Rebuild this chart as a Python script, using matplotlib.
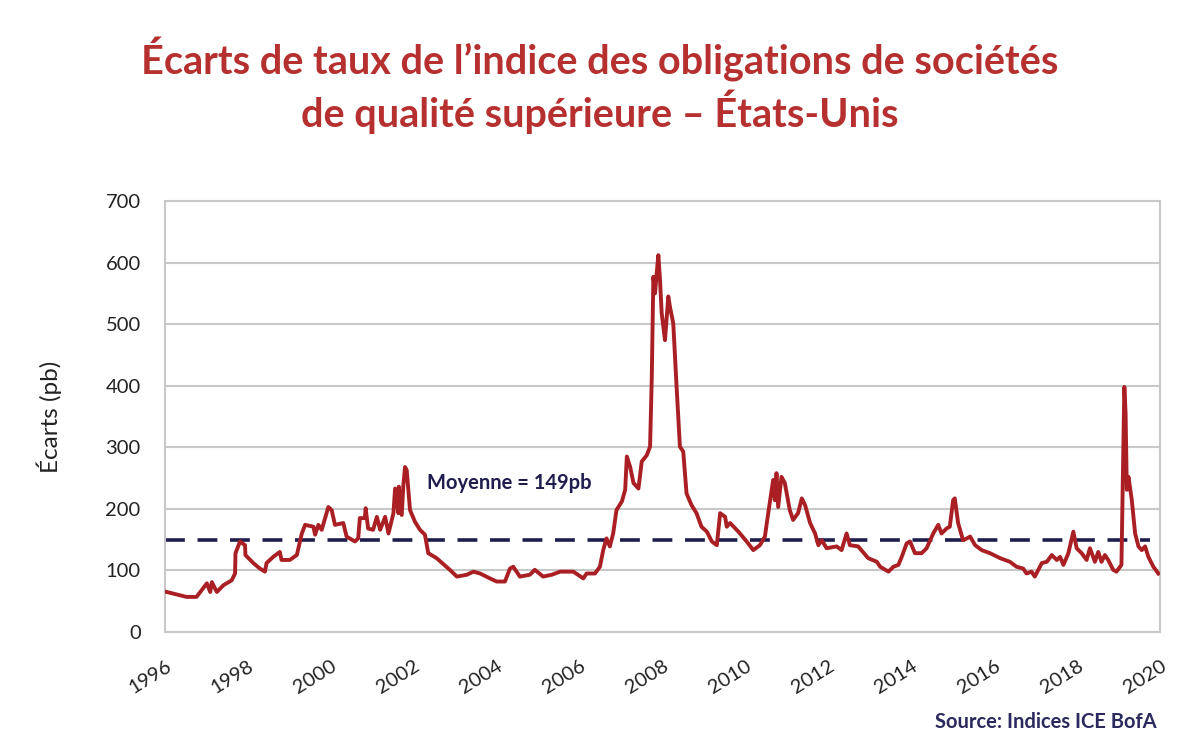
import matplotlib
matplotlib.use("Agg")
import matplotlib.pyplot as plt

# ---- data (decimal year, spread in bp) ----
years = [1996.04, 1996.52, 1996.76, 1997.01, 1997.09, 1997.13, 1997.25, 1997.41, 1997.61,
         1997.69, 1997.70, 1997.81, 1997.93, 1997.94, 1998.13, 1998.29, 1998.41, 1998.45,
         1998.61, 1998.77, 1998.81, 1999.01, 1999.18, 1999.30, 1999.38, 1999.58, 1999.62,
         1999.70, 1999.78, 1999.94, 2000.02, 2000.10, 2000.30, 2000.38, 2000.58, 2000.66,
         2000.70, 2000.82, 2000.84, 2000.90, 2001.02, 2001.11, 2001.19, 2001.31, 2001.39,
         2001.51, 2001.55, 2001.63, 2001.64, 2001.71, 2001.75, 2001.79, 2001.83, 2001.91,
         2002.03, 2002.15, 2002.27, 2002.35, 2002.55, 2002.87, 2003.04, 2003.28, 2003.44,
         2003.60, 2003.84, 2004.00, 2004.20, 2004.32, 2004.40, 2004.56, 2004.80, 2004.92,
         2005.12, 2005.33, 2005.53, 2005.85, 2006.09, 2006.17, 2006.37, 2006.49, 2006.57,
         2006.65, 2006.73, 2006.81, 2006.89, 2007.02, 2007.10, 2007.14, 2007.22, 2007.30,
         2007.42, 2007.50, 2007.62, 2007.70, 2007.74, 2007.78, 2007.82, 2007.86, 2007.90,
         2007.94, 2007.98, 2008.06, 2008.14, 2008.18, 2008.26, 2008.34, 2008.42, 2008.50,
         2008.58, 2008.70, 2008.82, 2008.94, 2009.07, 2009.19, 2009.31, 2009.39, 2009.51,
         2009.55, 2009.63, 2009.83, 2010.03, 2010.19, 2010.35, 2010.47, 2010.55, 2010.67,
         2010.71, 2010.75, 2010.79, 2010.87, 2010.95, 2011.07, 2011.15, 2011.27, 2011.36,
         2011.44, 2011.56, 2011.68, 2011.76, 2011.84, 2011.96, 2012.20, 2012.32, 2012.44,
         2012.52, 2012.72, 2012.96, 2013.17, 2013.25, 2013.45, 2013.57, 2013.69, 2013.77,
         2013.89, 2013.97, 2014.09, 2014.25, 2014.37, 2014.53, 2014.65, 2014.73, 2014.85,
         2014.93, 2015.01, 2015.05, 2015.13, 2015.25, 2015.34, 2015.42, 2015.54, 2015.70,
         2015.90, 2016.14, 2016.38, 2016.54, 2016.70, 2016.78, 2016.90, 2016.98, 2017.15,
         2017.27, 2017.39, 2017.51, 2017.59, 2017.67, 2017.79, 2017.91, 2017.99, 2018.11,
         2018.23, 2018.31, 2018.43, 2018.51, 2018.59, 2018.67, 2018.75, 2018.87, 2018.95,
         2019.07, 2019.11, 2019.14, 2019.17, 2019.20, 2019.24, 2019.32, 2019.40, 2019.48,
         2019.56, 2019.64, 2019.72, 2019.84, 2019.96]
spreads = [65, 57, 57, 79, 65, 81, 65, 76, 84,
           95, 128, 147, 141, 125, 112, 103, 98, 112,
           122, 130, 117, 117, 125, 160, 174, 171, 158,
           174, 166, 203, 198, 174, 177, 155, 147, 152,
           185, 185, 201, 168, 166, 187, 166, 187, 160,
           193, 233, 193, 236, 190, 239, 268, 263, 198,
           179, 166, 158, 128, 120, 101, 90, 93, 98,
           95, 87, 82, 82, 103, 106, 90, 93, 101,
           90, 93, 98, 98, 87, 95, 95, 106, 133,
           152, 139, 160, 198, 212, 231, 285, 268, 242,
           233, 277, 287, 301, 409, 577, 550, 583, 612,
           572, 518, 474, 545, 528, 501, 398, 301, 293,
           225, 206, 193, 171, 163, 147, 141, 193, 187,
           171, 177, 163, 147, 133, 141, 155, 193, 247,
           214, 258, 203, 252, 242, 198, 182, 193, 217,
           206, 177, 160, 141, 149, 136, 139, 133, 160,
           141, 139, 120, 114, 106, 98, 106, 109, 122,
           144, 147, 128, 128, 136, 160, 174, 160, 168,
           171, 214, 217, 177, 149, 152, 155, 141, 133,
           128, 120, 114, 106, 103, 95, 98, 90, 112,
           114, 125, 117, 122, 109, 128, 163, 136, 128,
           117, 136, 114, 130, 114, 125, 117, 101, 98,
           109, 274, 398, 355, 231, 252, 214, 160, 139,
           133, 139, 122, 106, 95]
average = 149
avg_label = "Moyenne = 149pb"
tick_years = list(range(1996, 2021, 2))
y_ticks = list(range(0, 701, 100))

title = "Écarts de taux de l’indice des obligations de sociétés\nde qualité supérieure – États-Unis"
ylabel = "Écarts (pb)"
source = "Source: Indices ICE BofA"

# ---- style ----
plt.rcParams['font.family'] = ['Lato', 'DejaVu Sans']
red = "#a91f24"
navy = "#1f1d4d"
grid_c = "#c8c8c8"

fig = plt.figure(figsize=(12, 7.45), dpi=100)
ax = fig.add_axes([165/1200, 113/745, 995/1200, 431/745])

ax.plot(years, spreads, color=red, lw=2.8, solid_joinstyle='round', zorder=3)
ax.hlines(average, 1996, 2019.75, colors=navy, lw=2.6, linestyles=(0, (5.5, 3.5)), zorder=2)
ax.text(2002.32, 242, avg_label, color=navy, fontsize=14.5, fontweight='bold',
        va='center', ha='left')

ax.set_xlim(1996, 2020)
ax.set_ylim(0, 700)
ax.set_yticks(y_ticks)
ax.set_xticks(tick_years)
ax.set_xticklabels([str(t) for t in tick_years], rotation=32, ha='right',
                   rotation_mode='anchor')
ax.tick_params(axis='both', length=0, labelsize=14.5, colors="#222222")
ax.tick_params(axis='y', pad=17.5)
ax.tick_params(axis='x', pad=18)
ax.grid(axis='y', color=grid_c, lw=1.5)
ax.set_axisbelow(True)
for s in ax.spines.values():
    s.set_color(grid_c)
    s.set_linewidth(1.5)

ax.set_ylabel(ylabel, fontsize=17.5, color="#222222", labelpad=31)

fig.text(0.5, 0.885, title, ha='center', va='center', fontsize=28.5,
         fontweight='bold', color="#b5302f", linespacing=1.2)
fig.text(1157/1200, 1 - 722/745, source, ha='right', va='center', fontsize=14.5,
         fontweight='bold', color="#2b2a5e")

fig.savefig("out.png", dpi=100)
